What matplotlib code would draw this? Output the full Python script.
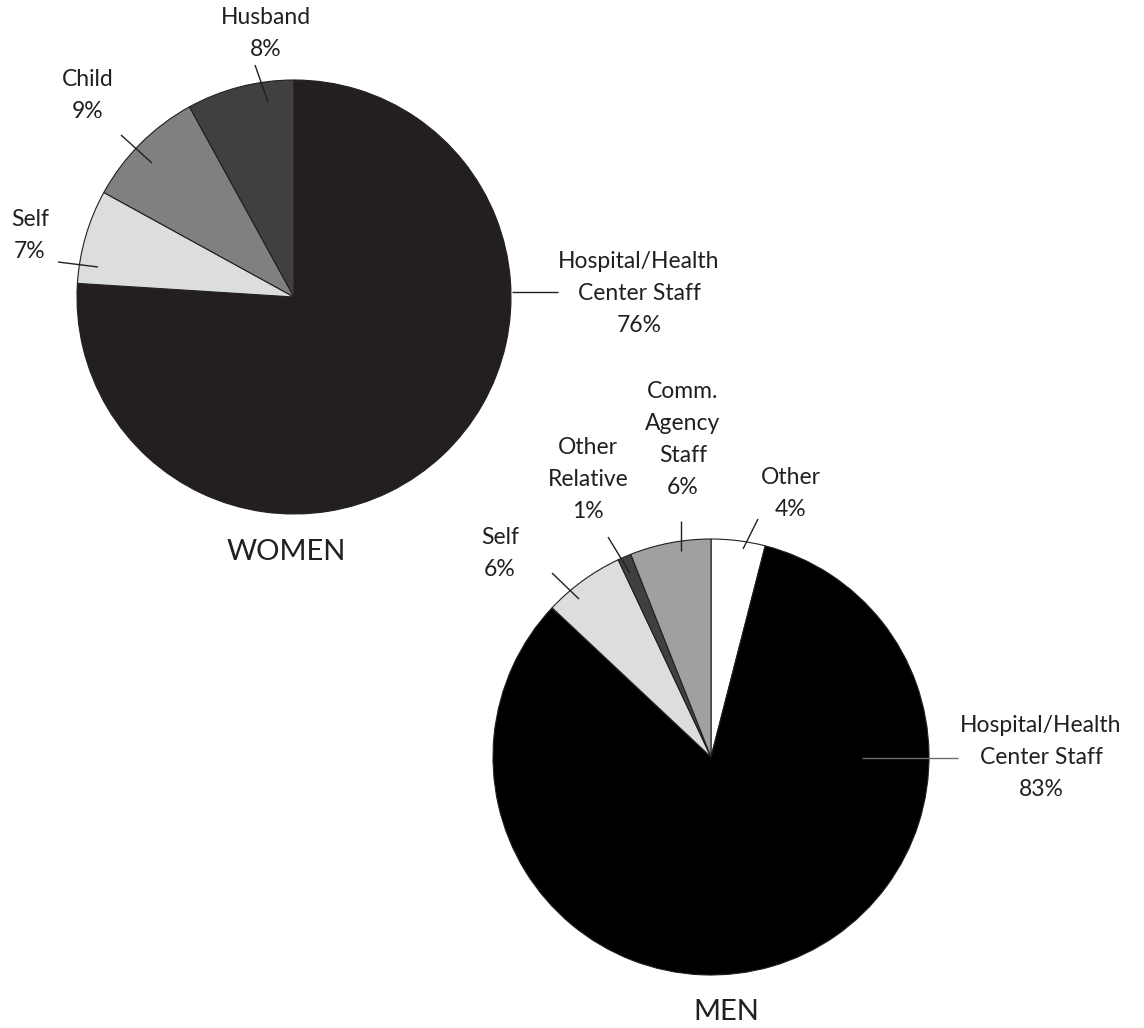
import matplotlib
matplotlib.use("Agg")
import matplotlib.pyplot as plt

# Who referred the respondent, by sex (percent)
women_labels = ["Hospital/Health\nCenter Staff", "Self", "Child", "Husband"]
women_values = [76, 7, 9, 8]
women_colors = ["#231f20", "#dcdddd", "#808080", "#404040"]

men_labels = ["Other", "Hospital/Health\nCenter Staff", "Self", "Other\nRelative", "Comm.\nAgency\nStaff"]
men_values = [4, 83, 6, 1, 6]
men_colors = ["#ffffff", "#000000", "#dcdddd", "#404040", "#a0a0a0"]

W, H = 1144, 1028
TEXT = "#231f20"
FONT = "Lato"

fig = plt.figure(figsize=(W / 100, H / 100), dpi=100)
ax = fig.add_axes([0, 0, 1, 1])


def fy(y):
    # pixel rows measured from the top
    return H - y


def draw_pie(values, colors, cx, cy, r):
    ax.pie(values, colors=colors, startangle=90, counterclock=False,
           center=(cx, fy(cy)), radius=r, frame=True,
           wedgeprops=dict(edgecolor="#231f20", linewidth=0.8))


draw_pie(women_values, women_colors, 294, 297, 217)
draw_pie(men_values, men_colors, 711, 757, 218)

# label text positions (x, y of first line) and leader segments
women_layout = [
    ((639, 261), ((512, 292), (558, 292)), "#231f20"),
    ((30, 220), ((58, 262), (98, 267)), "#231f20"),
    ((88, 80), ((121, 135), (152, 163)), "#231f20"),
    ((266, 18), ((255, 65), (268, 102)), "#231f20"),
]
men_layout = [
    ((791, 478), ((758, 519), (743, 549)), "#231f20"),
    ((1041, 725), ((862, 758), (958, 758)), "#6d6e71"),
    ((500, 537), ((552, 573), (579, 599)), "#231f20"),
    ((588, 448), ((608, 537), (630, 573)), "#231f20"),
    ((683, 391), ((681, 521), (681, 551)), "#231f20"),
]

LINE = 32


def put_labels(labels, values, layout):
    for lab, val, ((tx, ty), (p0, p1), lc) in zip(labels, values, layout):
        lines = lab.split("\n") + [f"{val}%"]
        for i, s in enumerate(lines):
            ax.text(tx, fy(ty + i * LINE), s, ha="center", va="center",
                    fontsize=16.5, color=TEXT, family=FONT)
        ax.plot([p0[0], p1[0]], [fy(p0[1]), fy(p1[1])], color=lc,
                linewidth=1.0, solid_capstyle="butt")


put_labels(women_labels, women_values, women_layout)
put_labels(men_labels, men_values, men_layout)

ax.text(286, fy(552), "WOMEN", ha="center", va="center", fontsize=21,
        color=TEXT, family=FONT)
ax.text(726, fy(1012), "MEN", ha="center", va="center", fontsize=21,
        color=TEXT, family=FONT)

ax.set_xlim(0, W)
ax.set_ylim(0, H)
ax.set_aspect("equal")
ax.axis("off")

fig.savefig("out.png", dpi=100, facecolor="white")
